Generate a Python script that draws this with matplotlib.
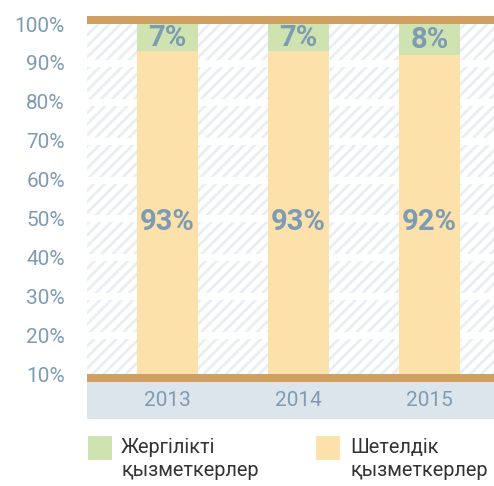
import matplotlib
matplotlib.use("Agg")
import matplotlib.pyplot as plt
from matplotlib.patches import Rectangle

# data
years = ["2013", "2014", "2015"]
foreign = [93, 93, 92]   # Шетелдік қызметкерлер
local = [7, 7, 8]        # Жергілікті қызметкерлер
yticks = [10, 20, 30, 40, 50, 60, 70, 80, 90, 100]
legend_labels = ["Жергілікті\nқызметкерлер", "Шетелдік\nқызметкерлер"]

GREEN = "#cfe3b0"
ORANGE = "#fde1ab"
BROWN = "#cfa062"
BLUE_TXT = "#7d9bb4"
BAND = "#dde5ec"
HATCH = "#e9eef4"

plt.rcParams["font.family"] = ["Roboto", "DejaVu Sans"]
plt.rcParams["hatch.linewidth"] = 2.0

fig = plt.figure(figsize=(4.94, 4.86), dpi=100)
W, H = 494, 486
ax = fig.add_axes([87 / W, 1 - 419 / H, 407 / W, (419 - 16) / H])

ymin, ymax = -1.57, 102.06
ax.set_ylim(ymin, ymax)
ax.set_xlim(-0.614, 2.492)

# hatched background with thick white grid lines
ax.axhspan(10, 100, facecolor="white", edgecolor=HATCH, hatch="///", linewidth=0, zorder=0)
for g in yticks[1:-1]:
    ax.axhline(g, color="white", linewidth=5.2, zorder=1)

# year band and brown rails
ax.axhspan(ymin, 7.94, facecolor=BAND, linewidth=0, zorder=3)
ax.axhspan(7.94, 10, facecolor=BROWN, linewidth=0, zorder=3)
ax.axhspan(100, ymax, facecolor=BROWN, linewidth=0, zorder=3)

x = range(len(years))
ax.bar(x, foreign, width=0.466, color=ORANGE, zorder=2)
ax.bar(x, local, bottom=foreign, width=0.466, color=GREEN, zorder=2)

for i in x:
    ax.text(i, 49, f"{foreign[i]}%", ha="center", va="center", fontsize=21,
            fontweight="bold", color=BLUE_TXT, zorder=4)
    ax.text(i, foreign[i] + local[i] / 2, f"{local[i]}%", ha="center", va="center",
            fontsize=21, fontweight="bold", color=BLUE_TXT, zorder=4)
    ax.text(i, 3.2, years[i], ha="center", va="center", fontsize=15,
            color=BLUE_TXT, zorder=4)

ax.set_yticks(yticks)
ax.set_yticklabels([f"{t}%" for t in yticks], fontsize=15, color=BLUE_TXT)
ax.tick_params(axis="y", length=0, pad=16)
ax.set_xticks([])
for s in ax.spines.values():
    s.set_visible(False)

# legend
for (lx, tx), col, lab in zip([(88, 121), (316, 350)], [GREEN, ORANGE], legend_labels):
    fig.add_artist(Rectangle((lx / W, 1 - 460 / H), 24 / W, 24 / H,
                             transform=fig.transFigure, facecolor=col, linewidth=0))
    fig.text(tx / W, 1 - 438 / H, lab, ha="left", va="top", fontsize=14.3,
             color="#333333", linespacing=1.25)

fig.savefig("out.png", dpi=100)
